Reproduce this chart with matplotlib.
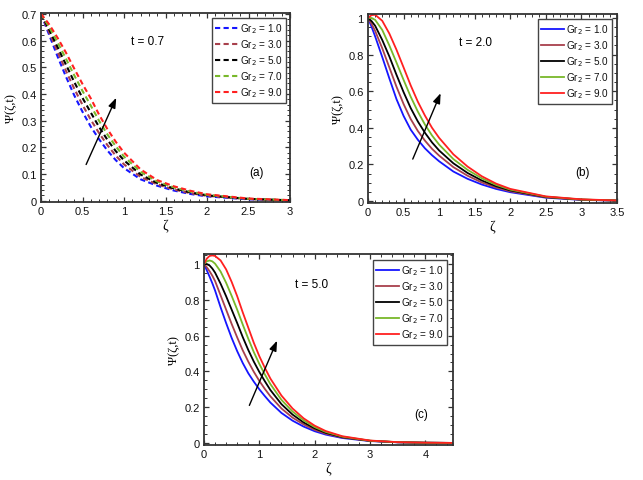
import matplotlib
matplotlib.use("Agg")
import matplotlib.pyplot as plt
from matplotlib.ticker import MultipleLocator, FuncFormatter

plt.rcParams['font.family'] = ['Liberation Sans', 'DejaVu Sans']

labels = ["Gr$_2$ = 1.0", "Gr$_2$ = 3.0", "Gr$_2$ = 5.0", "Gr$_2$ = 7.0", "Gr$_2$ = 9.0"]
colors = ["#1515ff", "#a8404c", "#000000", "#78b82a", "#ff2020"]

# panel (a), t = 0.7
za = [0, 0.1, 0.2, 0.3, 0.4, 0.5, 0.6, 0.7, 0.8, 0.9, 1.0, 1.2, 1.4, 1.6, 1.8, 2.0, 2.5, 3.0]
psi_a = [
    [0.70, 0.62, 0.54, 0.465, 0.395, 0.333, 0.277, 0.23, 0.188, 0.152, 0.122, 0.08, 0.056, 0.038, 0.025, 0.016, 0.005, 0.001],
    [0.70, 0.63, 0.558, 0.487, 0.42, 0.359, 0.303, 0.253, 0.208, 0.169, 0.136, 0.089, 0.061, 0.042, 0.028, 0.018, 0.006, 0.001],
    [0.70, 0.64, 0.575, 0.51, 0.445, 0.385, 0.33, 0.276, 0.228, 0.186, 0.151, 0.098, 0.066, 0.046, 0.031, 0.02, 0.0065, 0.0015],
    [0.70, 0.65, 0.593, 0.532, 0.47, 0.411, 0.356, 0.299, 0.248, 0.204, 0.165, 0.108, 0.072, 0.05, 0.034, 0.022, 0.007, 0.0018],
    [0.70, 0.66, 0.61, 0.555, 0.495, 0.437, 0.383, 0.322, 0.268, 0.221, 0.18, 0.117, 0.077, 0.054, 0.037, 0.024, 0.008, 0.002],
]

# panel (b), t = 2.0
zb = [0, 0.05, 0.1, 0.2, 0.3, 0.4, 0.5, 0.6, 0.7, 0.8, 0.9, 1.0, 1.2, 1.4, 1.6, 1.8, 2.0, 2.5, 3.0, 3.5]
psi_b = [
    [1.0, 0.952, 0.90, 0.787, 0.67, 0.557, 0.465, 0.39, 0.335, 0.288, 0.25, 0.217, 0.161, 0.121, 0.09, 0.066, 0.048, 0.018, 0.006, 0.002],
    [1.0, 0.968, 0.93, 0.835, 0.73, 0.625, 0.53, 0.448, 0.383, 0.33, 0.285, 0.248, 0.185, 0.138, 0.101, 0.074, 0.053, 0.02, 0.007, 0.002],
    [1.0, 0.983, 0.958, 0.88, 0.79, 0.69, 0.595, 0.508, 0.435, 0.373, 0.32, 0.276, 0.206, 0.153, 0.112, 0.081, 0.058, 0.022, 0.0075, 0.0025],
    [1.0, 1.0, 0.99, 0.935, 0.85, 0.757, 0.662, 0.57, 0.489, 0.418, 0.358, 0.308, 0.229, 0.17, 0.124, 0.088, 0.062, 0.0235, 0.008, 0.0028],
    [1.0, 1.016, 1.018, 0.985, 0.915, 0.827, 0.73, 0.632, 0.543, 0.467, 0.40, 0.345, 0.255, 0.188, 0.135, 0.095, 0.066, 0.025, 0.009, 0.003],
]

# panel (c), t = 5.0
zc = [0, 0.05, 0.1, 0.15, 0.2, 0.3, 0.4, 0.5, 0.6, 0.7, 0.8, 0.9, 1.0, 1.1, 1.2, 1.4, 1.6, 1.8, 2.0, 2.2, 2.5, 3.0, 3.5, 4.0, 4.5]
psi_c = [
    [1.0, 0.965, 0.93, 0.893, 0.852, 0.758, 0.67, 0.587, 0.513, 0.447, 0.39, 0.343, 0.30, 0.262, 0.226, 0.168, 0.125, 0.092, 0.066, 0.047, 0.028, 0.011, 0.004, 0.0015, 0.0005],
    [1.0, 0.982, 0.96, 0.935, 0.905, 0.825, 0.745, 0.665, 0.59, 0.518, 0.455, 0.398, 0.347, 0.302, 0.261, 0.193, 0.142, 0.104, 0.074, 0.052, 0.031, 0.012, 0.0042, 0.0016, 0.0005],
    [1.0, 1.0, 0.992, 0.975, 0.952, 0.89, 0.82, 0.745, 0.67, 0.592, 0.52, 0.455, 0.397, 0.345, 0.296, 0.217, 0.159, 0.115, 0.082, 0.057, 0.033, 0.0125, 0.0045, 0.0017, 0.0006],
    [1.0, 1.015, 1.02, 1.015, 1.002, 0.958, 0.895, 0.822, 0.745, 0.662, 0.583, 0.508, 0.442, 0.383, 0.329, 0.241, 0.176, 0.127, 0.089, 0.062, 0.0355, 0.013, 0.0048, 0.0018, 0.0006],
    [1.0, 1.03, 1.045, 1.048, 1.045, 1.02, 0.97, 0.90, 0.82, 0.73, 0.645, 0.56, 0.485, 0.42, 0.36, 0.265, 0.193, 0.138, 0.097, 0.067, 0.038, 0.014, 0.005, 0.002, 0.0007],
]

fig = plt.figure(figsize=(6.43, 4.81), dpi=100)
W, H = 643.0, 481.0
serif = ["Liberation Serif", "DejaVu Serif"]


def make_axes(left, top, right, bottom):
    return fig.add_axes([left / W, 1 - bottom / H, (right - left) / W, (bottom - top) / H])


def style(ax, xmaj, xmin, ymaj, ymin):
    for s in ax.spines.values():
        s.set_color("#333333")
        s.set_linewidth(1.3)
    ax.xaxis.set_major_locator(MultipleLocator(xmaj))
    ax.xaxis.set_minor_locator(MultipleLocator(xmin))
    ax.yaxis.set_major_locator(MultipleLocator(ymaj))
    ax.yaxis.set_minor_locator(MultipleLocator(ymin))
    fmt = FuncFormatter(lambda v, p: f"{v:g}")
    ax.xaxis.set_major_formatter(fmt)
    ax.yaxis.set_major_formatter(fmt)
    ax.tick_params(which="both", direction="in", top=True, right=True, colors="#333333",
                   labelcolor="#111111", labelsize=8, pad=3)
    ax.tick_params(which="major", length=3.5, width=0.9)
    ax.tick_params(which="minor", length=2, width=0.7)
    ax.set_xlabel("ζ", family=serif, fontsize=10, labelpad=2)
    ax.set_ylabel("Ψ(ζ,t)", family=serif, fontsize=9, labelpad=3)


def add_legend(ax, anchor):
    leg = ax.legend(loc="upper right", bbox_to_anchor=anchor, fontsize=7.2, frameon=True,
                    fancybox=False, handlelength=2.3, handletextpad=0.12, borderpad=0.35,
                    labelspacing=0.22, borderaxespad=0.0, framealpha=1)
    leg.get_frame().set_edgecolor("#444444")
    leg.get_frame().set_linewidth(1.0)
    for t in leg.get_texts():
        t.set_color("#111111")


def arrow(ax, tail, head):
    ax.annotate("", xy=head, xytext=tail,
                arrowprops=dict(arrowstyle="-|>,head_length=0.6,head_width=0.22", color="black", lw=1.0))


# (a)
ax = make_axes(41, 13.5, 290, 203)
for y, c, l in zip(psi_a, colors, labels):
    ax.plot(za, y, color=c, lw=1.5, dashes=(2.5, 1.6), label=l)
ax.set_xlim(0, 3)
ax.set_ylim(-0.005, 0.705)
style(ax, 0.5, 0.1, 0.1, 0.02)
add_legend(ax, (0.984, 0.971))
ax.text(1.28, 0.60, "t = 0.7", fontsize=8.5, ha="center", va="center")
ax.text(2.6, 0.109, "(a)", fontsize=8.5, ha="center", va="center")
arrow(ax, (0.53, 0.126), (0.92, 0.395))

# (b)
ax = make_axes(368, 15, 617, 204)
for y, c, l in zip(psi_b, colors, labels):
    ax.plot(zb, y, color=c, lw=1.3, label=l)
ax.set_xlim(0, 3.5)
ax.set_ylim(-0.011, 1.022)
style(ax, 0.5, 0.1, 0.2, 0.05)
add_legend(ax, (0.98, 0.974))
ax.text(1.51, 0.87, "t = 2.0", fontsize=8.5, ha="center", va="center")
ax.text(3.02, 0.157, "(b)", fontsize=8.5, ha="center", va="center")
arrow(ax, (0.614, 0.215), (1.036, 0.603))

# (c)
ax = make_axes(204, 255, 453, 446)
for y, c, l in zip(psi_c, colors, labels):
    ax.plot(zc, y, color=c, lw=1.3, label=l)
ax.set_xlim(0, 4.5)
ax.set_ylim(-0.011, 1.056)
style(ax, 1, 0.2, 0.2, 0.05)
add_legend(ax, (0.976, 0.969))
ax.text(1.95, 0.89, "t = 5.0", fontsize=8.5, ha="center", va="center")
ax.text(3.92, 0.162, "(c)", fontsize=8.5, ha="center", va="center")
arrow(ax, (0.80, 0.196), (1.34, 0.586))

fig.savefig("out.png", dpi=100)
